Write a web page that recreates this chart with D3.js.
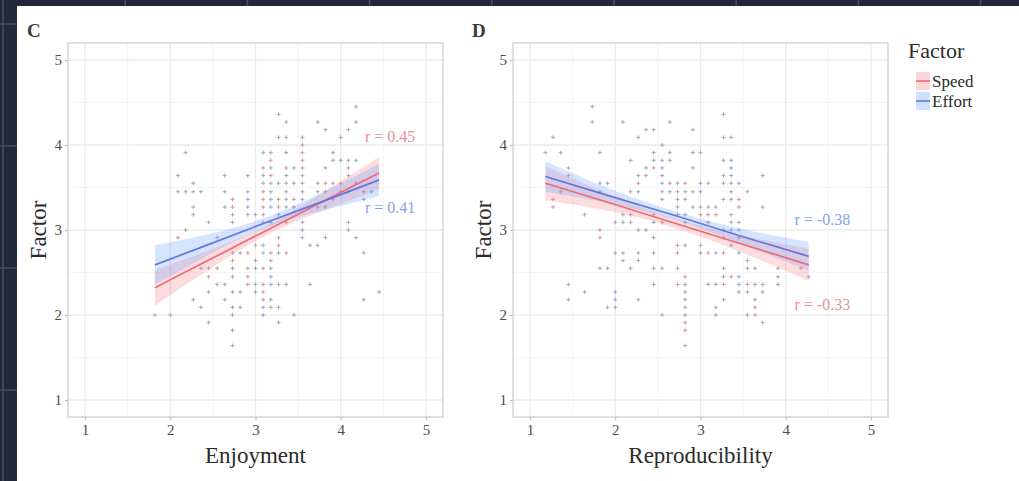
<!DOCTYPE html>
<html>
<head>
<meta charset="utf-8">
<script src="https://cdn.jsdelivr.net/npm/d3@7"></script>
<style>
  body { margin: 0; background: #20283a; }
  svg { display: block; }
</style>
</head>
<body>
<svg id="chart" width="1019" height="481"></svg>
<script>
// ---- data ----
const axisTicks = [1, 2, 3, 4, 5];
const seriesNames = ['Speed', 'Effort'];

// panel C: Enjoyment vs factor score
const speedC = [
  [4.18,4.45],[3.36,4.27],[4.18,4.27],[3.82,4.18],[3.36,4.09],[4.0,4.09],[3.55,4.0],
  [2.18,3.91],[3.18,3.91],[3.55,3.91],[3.18,3.82],[3.91,3.82],[4.09,3.82],
  [3.09,3.73],[3.36,3.73],[3.55,3.73],[4.09,3.73],
  [2.09,3.64],[2.91,3.64],[3.18,3.64],[3.55,3.64],
  [2.27,3.55],[3.18,3.55],[3.36,3.55],[3.55,3.55],[3.82,3.55],[4.0,3.55],
  [2.09,3.45],[2.27,3.45],[2.64,3.45],[3.09,3.45],[3.36,3.45],[3.73,3.45],[4.0,3.45],[4.27,3.45],
  [2.73,3.36],[3.09,3.36],[3.27,3.36],[3.45,3.36],[3.91,3.36],
  [2.27,3.27],[2.73,3.27],[3.09,3.27],[3.27,3.27],[3.45,3.27],[3.82,3.27],
  [2.27,3.18],[2.91,3.18],[3.09,3.18],
  [2.45,3.09],[3.09,3.09],[3.36,3.09],[4.09,3.09],
  [2.18,3.0],[4.09,3.0],[2.09,2.91],[3.27,2.91],[3.82,2.91],
  [3.0,2.82],[3.27,2.82],[3.73,2.82],
  [2.73,2.73],[2.91,2.73],[3.18,2.73],[3.36,2.73],[2.73,2.64],[3.18,2.64],
  [2.36,2.55],[2.55,2.55],[2.91,2.55],[3.09,2.55],[2.45,2.45],[2.91,2.45],
  [2.55,2.36],[2.91,2.36],[3.09,2.36],[3.27,2.36],[3.64,2.36],
  [2.45,2.27],[2.82,2.27],[3.09,2.27],[2.27,2.18],[3.09,2.18],[4.27,2.18],
  [2.36,2.09],[2.82,2.09],[3.18,2.09],[1.82,2.0],[2.73,2.0],[3.45,2.0],
  [2.45,1.91],[2.73,1.82],[2.73,1.64]
];
const effortC = [
  [3.27,4.36],[3.73,4.27],[4.09,4.18],[3.27,4.09],[3.55,4.09],
  [3.09,3.91],[3.36,3.91],[3.91,3.91],[3.55,3.82],[4.0,3.82],[4.18,3.82],
  [3.18,3.73],[3.45,3.73],[3.82,3.73],
  [2.64,3.64],[3.09,3.64],[3.36,3.64],[4.09,3.64],
  [3.09,3.55],[3.27,3.55],[3.45,3.55],[3.73,3.55],[3.91,3.55],[4.18,3.55],
  [2.18,3.45],[2.36,3.45],[2.91,3.45],[3.18,3.45],[3.55,3.45],[3.82,3.45],[4.09,3.45],[4.36,3.45],
  [2.91,3.36],[3.18,3.36],[3.36,3.36],[3.55,3.36],[4.27,3.36],
  [2.64,3.27],[2.91,3.27],[3.18,3.27],[3.36,3.27],[3.73,3.27],
  [2.73,3.18],[3.0,3.18],[3.27,3.18],[2.73,3.09],[3.18,3.09],[3.55,3.09],
  [3.55,3.0],[2.55,2.91],[3.55,2.91],[4.18,2.91],[3.09,2.82],[3.64,2.82],
  [2.82,2.73],[3.09,2.73],[3.27,2.73],[4.27,2.73],[3.0,2.64],
  [2.45,2.55],[2.73,2.55],[3.0,2.55],[3.18,2.55],[2.73,2.45],[3.18,2.45],
  [2.64,2.36],[3.0,2.36],[3.18,2.36],[3.36,2.36],
  [2.73,2.27],[3.0,2.27],[4.45,2.27],[2.64,2.18],[3.18,2.18],
  [2.73,2.09],[3.09,2.09],[3.27,2.09],[2.0,2.0],[3.09,2.0],[3.27,1.91]
];
const fitXC = [1.82, 2.4, 3.1, 3.8, 4.45];
const speedFitC = [2.32, 2.62, 2.98, 3.34, 3.67];
const speedLoC = [2.11, 2.50, 2.925, 3.23, 3.48];
const speedHiC = [2.53, 2.74, 3.035, 3.45, 3.86];
const effortFitC = [2.59, 2.81, 3.08, 3.34, 3.59];
const effortLoC = [2.36, 2.68, 3.02, 3.23, 3.40];
const effortHiC = [2.82, 2.94, 3.14, 3.45, 3.78];
const rLabelsC = ['r = 0.45', 'r = 0.41'];
const rPosC = [[4.58, 4.09], [4.58, 3.26]];

// panel D: Reproducibility vs factor score
const speedD = [
  [1.73,4.45],[1.73,4.27],[2.64,4.27],[2.36,4.18],[2.91,4.18],[1.27,4.09],[3.27,4.09],
  [1.18,3.91],[1.82,3.91],[2.64,3.91],[3.0,3.91],[2.18,3.82],[2.55,3.82],[3.27,3.82],
  [1.45,3.73],[2.45,3.73],[2.91,3.73],[1.45,3.64],[2.36,3.64],[3.27,3.64],[3.73,3.64],
  [1.82,3.55],[2.27,3.55],[2.64,3.55],[2.82,3.55],[3.09,3.55],[3.36,3.55],
  [1.36,3.45],[2.18,3.45],[2.55,3.45],[2.73,3.45],[2.91,3.45],[3.36,3.45],
  [1.27,3.36],[2.73,3.36],[3.27,3.36],[3.45,3.36],
  [1.27,3.27],[2.91,3.27],[3.09,3.27],[3.45,3.27],
  [1.64,3.18],[2.18,3.18],[2.73,3.18],[3.0,3.18],[3.18,3.18],
  [2.0,3.09],[2.18,3.09],[2.55,3.09],[3.09,3.09],[3.45,3.09],
  [1.82,3.0],[2.36,3.0],[3.36,3.0],[1.82,2.91],[3.27,2.91],[2.73,2.82],[3.0,2.82],
  [2.0,2.73],[2.27,2.73],[2.73,2.73],[3.09,2.73],[3.27,2.73],[2.09,2.64],[3.55,2.64],
  [1.82,2.55],[2.18,2.55],[2.55,2.55],[3.27,2.55],[3.64,2.55],[4.18,2.55],
  [2.82,2.45],[3.36,2.45],[3.91,2.45],
  [1.45,2.36],[2.73,2.36],[3.09,2.36],[3.27,2.36],[3.55,2.36],[3.73,2.36],
  [1.64,2.27],[2.82,2.27],[3.55,2.27],[1.45,2.18],[2.27,2.18],[3.27,2.18],
  [1.91,2.09],[2.82,2.09],[3.64,2.09],[2.55,2.0],[3.18,2.0],[3.64,2.0],
  [2.82,1.91],[2.82,1.82],[2.82,1.64]
];
const effortD = [
  [3.27,4.36],[2.09,4.27],[2.45,4.18],[2.27,4.09],[3.36,4.09],[2.55,4.0],
  [1.36,3.91],[2.45,3.91],[2.91,3.91],[2.45,3.82],[2.64,3.82],[3.36,3.82],
  [2.36,3.73],[2.55,3.73],[3.36,3.73],[2.27,3.64],[2.55,3.64],[3.36,3.64],
  [1.91,3.55],[2.55,3.55],[2.73,3.55],[3.0,3.55],[3.27,3.55],[3.45,3.55],
  [1.82,3.45],[2.27,3.45],[2.64,3.45],[2.82,3.45],[3.0,3.45],[3.55,3.45],
  [2.55,3.36],[2.82,3.36],[3.36,3.36],
  [2.73,3.27],[3.0,3.27],[3.18,3.27],[3.73,3.27],
  [2.09,3.18],[2.45,3.18],[2.82,3.18],[3.09,3.18],[3.36,3.18],
  [2.09,3.09],[2.45,3.09],[2.82,3.09],[3.36,3.09],
  [2.27,3.0],[3.27,3.0],[3.45,3.0],[2.45,2.91],[3.45,2.91],[2.82,2.82],[3.36,2.82],
  [2.09,2.73],[2.45,2.73],[3.0,2.73],[3.18,2.73],[3.45,2.73],[2.27,2.64],
  [1.91,2.55],[2.45,2.55],[2.73,2.55],[3.55,2.55],[3.91,2.55],
  [3.27,2.45],[3.45,2.45],[4.27,2.45],
  [2.45,2.36],[2.82,2.36],[3.18,2.36],[3.45,2.36],[3.64,2.36],[3.91,2.36],
  [2.0,2.27],[3.45,2.27],[3.73,2.27],[2.0,2.18],[2.82,2.18],[3.64,2.18],
  [2.0,2.09],[3.18,2.09],[2.82,2.0],[3.55,2.0],[3.73,1.91]
];
const fitXD = [1.18, 1.9, 2.7, 3.5, 4.27];
const speedFitD = [3.55, 3.33, 3.08, 2.83, 2.59];
const speedLoD = [3.35, 3.23, 3.025, 2.73, 2.40];
const speedHiD = [3.75, 3.43, 3.135, 2.93, 2.78];
const effortFitD = [3.63, 3.41, 3.17, 2.92, 2.69];
const effortLoD = [3.45, 3.32, 3.12, 2.83, 2.52];
const effortHiD = [3.81, 3.50, 3.22, 3.01, 2.86];
const rLabelsD = ['r = -0.33', 'r = -0.38'];
const rPosD = [[4.43, 2.12], [4.43, 3.12]];

// ---- styling ----
const colors = {
  Speed: { line: '#ee6a7a', fill: '#f8767d', point: '#c99aa1', text: '#e88f99' },
  Effort: { line: '#6676dc', fill: '#619cff', point: '#9aa6cc', text: '#82a6e2' },
};
const font = '"Liberation Serif", "Times New Roman", serif';
const svg = d3.select('#chart');

// dark page behind the figure, with its faint grid
const bgGrid = svg.append('g').attr('stroke', '#48505f').attr('stroke-width', 1.5);
d3.range(3, 1019, 122.2).forEach((gx) => {
  bgGrid.append('line').attr('x1', gx).attr('x2', gx).attr('y1', 0).attr('y2', 481);
});
d3.range(24, 481, 122).forEach((gy) => {
  bgGrid.append('line').attr('x1', 0).attr('x2', 1019).attr('y1', gy).attr('y2', gy);
});
svg.append('rect').attr('x', 17).attr('y', 6).attr('width', 1002).attr('height', 475).attr('fill', '#ffffff');

function zipFit(xs, fit, lo, hi) {
  return xs.map((v, i) => ({ x: v, fit: fit[i], lo: lo[i], hi: hi[i] }));
}

function drawPanel(p) {
  const w = 375, h = 374;
  const g = svg.append('g').attr('transform', `translate(${p.left},43)`);
  const x = d3.scaleLinear().domain([0.8, 5.2]).range([0, w]);
  const y = d3.scaleLinear().domain([0.8, 5.2]).range([h, 0]);

  g.append('rect').attr('width', w).attr('height', h).attr('fill', '#fff');

  const minor = [1.5, 2.5, 3.5, 4.5];
  g.append('g').selectAll('line').data(minor).join('line')
    .attr('x1', (d) => x(d)).attr('x2', (d) => x(d)).attr('y1', 0).attr('y2', h)
    .attr('stroke', '#f4f4f4').attr('stroke-width', 1);
  g.append('g').selectAll('line').data(minor).join('line')
    .attr('y1', (d) => y(d)).attr('y2', (d) => y(d)).attr('x1', 0).attr('x2', w)
    .attr('stroke', '#f4f4f4').attr('stroke-width', 1);
  g.append('g').selectAll('line').data(axisTicks).join('line')
    .attr('x1', (d) => x(d)).attr('x2', (d) => x(d)).attr('y1', 0).attr('y2', h)
    .attr('stroke', '#ebebeb').attr('stroke-width', 1.3);
  g.append('g').selectAll('line').data(axisTicks).join('line')
    .attr('y1', (d) => y(d)).attr('y2', (d) => y(d)).attr('x1', 0).attr('x2', w)
    .attr('stroke', '#ebebeb').attr('stroke-width', 1.3);

  const clipId = `clip${p.label}`;
  g.append('clipPath').attr('id', clipId).append('rect').attr('width', w).attr('height', h);
  const marks = g.append('g').attr('clip-path', `url(#${clipId})`);

  // points as small plus signs
  seriesNames.forEach((s) => {
    marks.append('g').selectAll('path').data(p.points[s]).join('path')
      .attr('d', (d) => `M${x(d[0]) - 2},${y(d[1])}h4M${x(d[0])},${y(d[1]) - 2}v4`)
      .attr('stroke', colors[s].point).attr('stroke-width', 1).attr('fill', 'none');
  });

  // confidence ribbons, then fit lines
  const area = d3.area().x((d) => x(d.x)).y0((d) => y(d.lo)).y1((d) => y(d.hi)).curve(d3.curveNatural);
  const line = d3.line().x((d) => x(d.x)).y((d) => y(d.fit));
  seriesNames.forEach((s) => {
    marks.append('path').datum(p.fits[s]).attr('d', area)
      .attr('fill', colors[s].fill).attr('fill-opacity', 0.26);
  });
  seriesNames.forEach((s) => {
    marks.append('path').datum(p.fits[s]).attr('d', line)
      .attr('fill', 'none').attr('stroke', colors[s].line).attr('stroke-width', 1.7);
  });

  // correlation labels
  seriesNames.forEach((s, i) => {
    g.append('text').attr('x', x(p.rPos[i][0])).attr('y', y(p.rPos[i][1]) + 5)
      .attr('text-anchor', 'middle').attr('font-family', font).attr('font-size', 16)
      .attr('fill', colors[s].text).text(p.rLabels[i]);
  });

  g.append('rect').attr('width', w).attr('height', h).attr('fill', 'none')
    .attr('stroke', '#d6d6d6').attr('stroke-width', 1.5);

  // axes
  const ax = g.append('g').attr('transform', `translate(0,${h})`)
    .call(d3.axisBottom(x).tickValues(axisTicks).tickSize(3).tickPadding(4).tickFormat(d3.format('d')));
  const ay = g.append('g')
    .call(d3.axisLeft(y).tickValues(axisTicks).tickSize(3).tickPadding(3).tickFormat(d3.format('d')));
  [ax, ay].forEach((a) => {
    a.select('.domain').remove();
    a.selectAll('line').attr('stroke', '#b5b5b5');
    a.selectAll('text').attr('font-family', font).attr('font-size', 15).attr('fill', '#4d4d4d');
  });

  g.append('text').attr('x', w / 2).attr('y', h + 46).attr('text-anchor', 'middle')
    .attr('font-family', font).attr('font-size', 23).attr('fill', '#2b2b2b').text(p.xTitle);
  g.append('text').attr('transform', `translate(-22,${h / 2}) rotate(-90)`).attr('text-anchor', 'middle')
    .attr('font-family', font).attr('font-size', 23).attr('fill', '#2b2b2b').text('Factor');
  g.append('text').attr('x', -41).attr('y', -6).attr('font-family', font).attr('font-weight', 'bold')
    .attr('font-size', 19).attr('fill', '#3a3a3a').text(p.label);
}

drawPanel({
  label: 'C', left: 68, xTitle: 'Enjoyment',
  points: { Speed: speedC, Effort: effortC },
  fits: {
    Speed: zipFit(fitXC, speedFitC, speedLoC, speedHiC),
    Effort: zipFit(fitXC, effortFitC, effortLoC, effortHiC),
  },
  rLabels: rLabelsC, rPos: rPosC,
});
drawPanel({
  label: 'D', left: 513, xTitle: 'Reproducibility',
  points: { Speed: speedD, Effort: effortD },
  fits: {
    Speed: zipFit(fitXD, speedFitD, speedLoD, speedHiD),
    Effort: zipFit(fitXD, effortFitD, effortLoD, effortHiD),
  },
  rLabels: rLabelsD, rPos: rPosD,
});

// legend
const legend = svg.append('g').attr('transform', 'translate(908,0)');
legend.append('text').attr('x', 0).attr('y', 58).attr('font-family', font).attr('font-size', 22)
  .attr('fill', '#2b2b2b').text('Factor');
seriesNames.forEach((s, i) => {
  const ky = 72 + i * 20;
  legend.append('rect').attr('x', 8).attr('y', ky).attr('width', 14).attr('height', 18)
    .attr('fill', colors[s].fill).attr('fill-opacity', 0.3);
  legend.append('line').attr('x1', 8).attr('x2', 22).attr('y1', ky + 9).attr('y2', ky + 9)
    .attr('stroke', colors[s].line).attr('stroke-width', 1.6);
  legend.append('text').attr('x', 24).attr('y', ky + 15).attr('font-family', font).attr('font-size', 17)
    .attr('fill', '#2b2b2b').text(s);
});
</script>
</body>
</html>
